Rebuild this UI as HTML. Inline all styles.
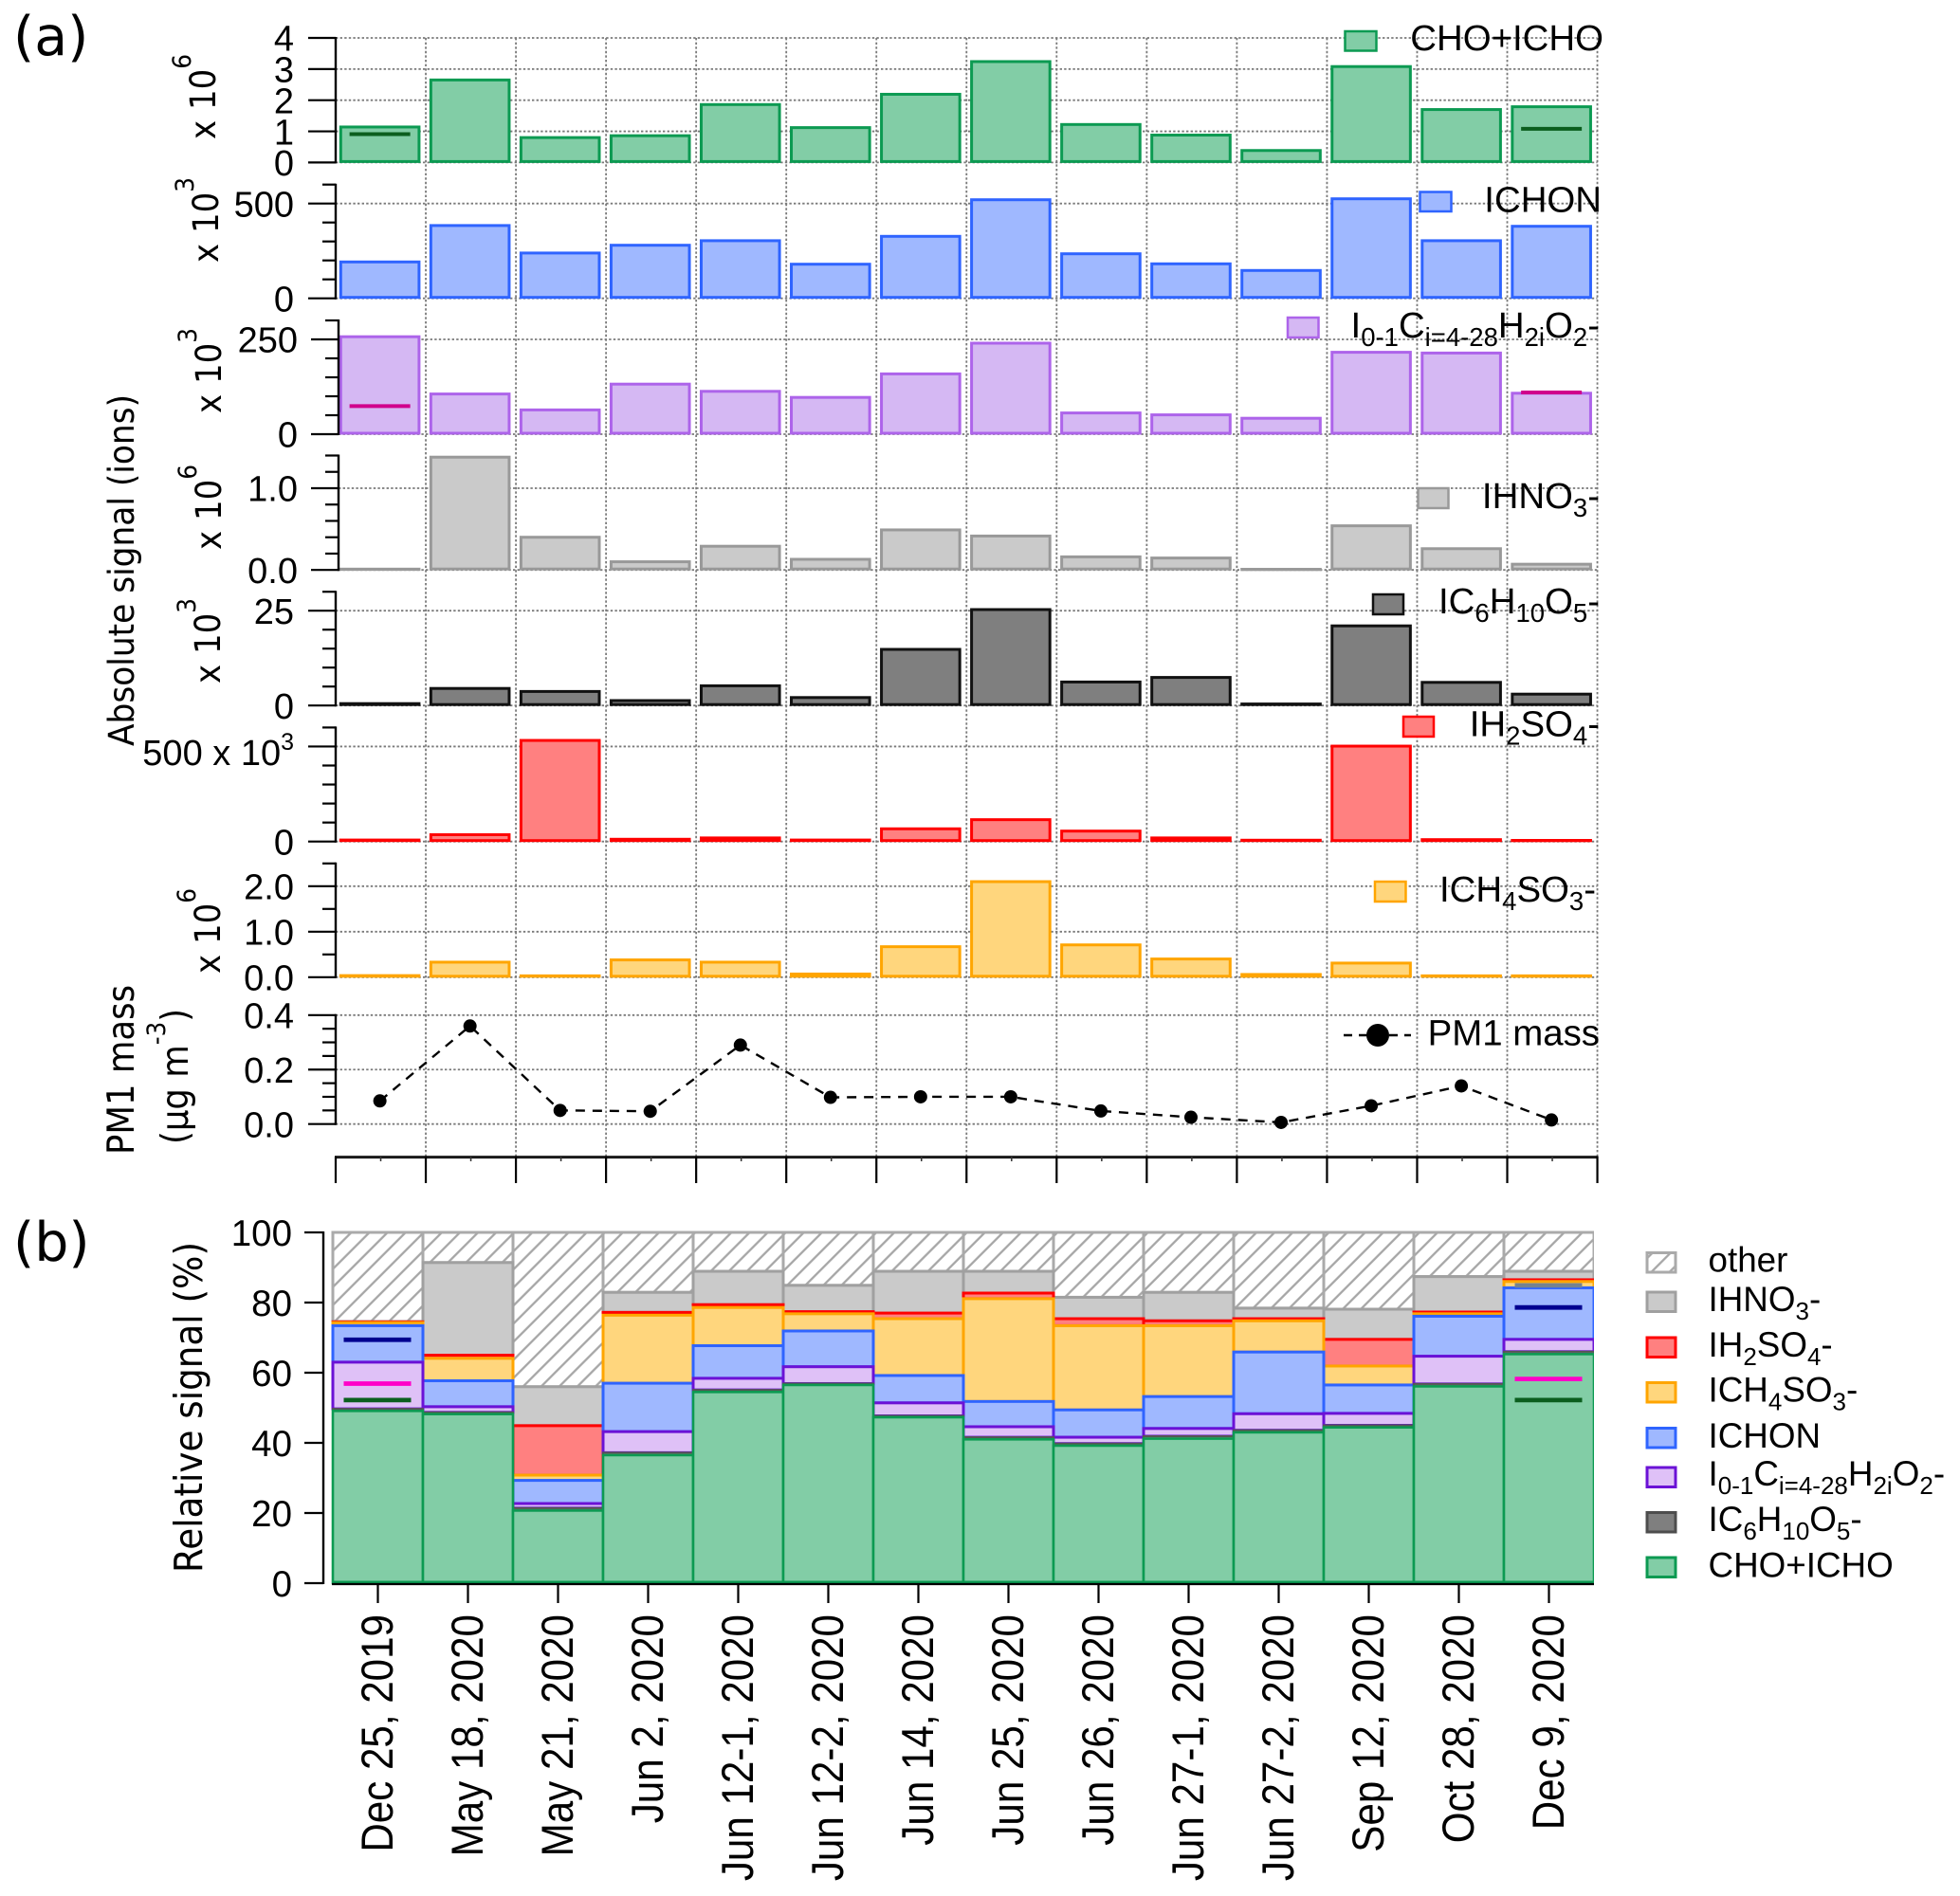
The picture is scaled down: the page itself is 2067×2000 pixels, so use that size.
<!DOCTYPE html>
<html lang="en">
<head>
<meta charset="utf-8">
<title>Absolute and relative signal by sample date</title>
<style>
html,body{margin:0;padding:0;background:#fff;}
svg{display:block;}
text{fill:#000;font-family:"Liberation Sans",sans-serif;}
.lg{font-size:38.4px;}
.lb{font-size:36.8px;}
</style>
</head>
<body>
<svg id="figure" xmlns="http://www.w3.org/2000/svg" width="2067" height="2000" viewBox="0 0 2067 2000">
  <defs>
    <pattern id="hatch" patternUnits="userSpaceOnUse" width="13.5" height="13.5" patternTransform="rotate(45)">
      <rect width="13.5" height="13.5" fill="#fff"></rect>
      <line x1="6.75" y1="0" x2="6.75" y2="13.5" stroke="#A6A6A6" stroke-width="2.3"></line>
    </pattern>
    <clipPath id="relClip"><rect x="340" y="1290" width="1341" height="390"></rect></clipPath>
  </defs>
  <rect width="2067" height="2000" fill="#fff"></rect>

  <text x="14" y="58" font-size="57" style="font-family:'DejaVu Sans',sans-serif">(a)</text>
  <text x="14" y="1330" font-size="57" style="font-family:'DejaVu Sans',sans-serif">(b)</text>

  <g id="gridLayer"></g>
  <g id="barLayer"></g>
  <g id="axisLayer"></g>
  <g id="relLayer" clip-path="url(#relClip)"></g>
  <g id="relAxis"></g>

  <!-- Axis titles -->
  <text transform="translate(141,787) rotate(-90) scale(0.91,1)" font-size="37.8" style="font-family:'DejaVu Sans',sans-serif">Absolute signal (ions)</text>
  <text transform="translate(213,1659) rotate(-90) scale(0.91,1)" font-size="41" style="font-family:'DejaVu Sans',sans-serif">Relative signal (%)</text>
  <text transform="translate(141,1218) rotate(-90) scale(0.91,1)" font-size="39" style="font-family:'DejaVu Sans',sans-serif">PM1 mass</text>
  <text transform="translate(198,1207) rotate(-90) scale(0.91,1)" font-size="39" style="font-family:'DejaVu Sans',sans-serif">(µg m<tspan font-size="27" dy="-24">-3</tspan><tspan dy="24">)</tspan></text>

  <!-- Multiplier labels -->
  <g>
    <text transform="translate(227,147) rotate(-90) scale(0.92,1)" font-size="37" style="font-family:'DejaVu Sans',sans-serif">x 10<tspan font-size="27" dy="-26">6</tspan></text>
    <text transform="translate(230,277) rotate(-90) scale(0.92,1)" font-size="37" style="font-family:'DejaVu Sans',sans-serif">x 10<tspan font-size="27" dy="-26">3</tspan></text>
    <text transform="translate(233,436) rotate(-90) scale(0.92,1)" font-size="37" style="font-family:'DejaVu Sans',sans-serif">x 10<tspan font-size="27" dy="-26">3</tspan></text>
    <text transform="translate(233,580) rotate(-90) scale(0.92,1)" font-size="37" style="font-family:'DejaVu Sans',sans-serif">x 10<tspan font-size="27" dy="-26">6</tspan></text>
    <text transform="translate(232,721) rotate(-90) scale(0.92,1)" font-size="37" style="font-family:'DejaVu Sans',sans-serif">x 10<tspan font-size="27" dy="-26">3</tspan></text>
    <text transform="translate(232,1027) rotate(-90) scale(0.92,1)" font-size="37" style="font-family:'DejaVu Sans',sans-serif">x 10<tspan font-size="27" dy="-26">6</tspan></text>
  </g>

  <!-- Panel (a) legends -->
  <g>
    <rect x="1418.5" y="33" width="33" height="20.5" fill="#82CDA6" stroke="#0C9A52" stroke-width="2.5"></rect>
    <text class="lg" x="1691" y="53" text-anchor="end">CHO+ICHO</text>
  </g>
  <g>
    <rect x="1497.5" y="202.5" width="33" height="20.5" fill="#9FB8FF" stroke="#2F64FF" stroke-width="2.5"></rect>
    <text class="lg" x="1689" y="223.7" text-anchor="end">ICHON</text>
  </g>
  <g>
    <rect x="1358" y="335" width="32.5" height="21" fill="#D5B8F3" stroke="#AD64EA" stroke-width="2.5"></rect>
    <text class="lg" x="1687" y="356" text-anchor="end">I<tspan font-size="27.5" dy="9">0-1</tspan><tspan dy="-9">C</tspan><tspan font-size="27.5" dy="9">i=4-28</tspan><tspan dy="-9">H</tspan><tspan font-size="27.5" dy="9">2i</tspan><tspan dy="-9">O</tspan><tspan font-size="27.5" dy="9">2</tspan><tspan dy="-9">-</tspan></text>
  </g>
  <g>
    <rect x="1495.5" y="515" width="32" height="21" fill="#CACACA" stroke="#999" stroke-width="2.5"></rect>
    <text class="lg" x="1687" y="536" text-anchor="end">IHNO<tspan font-size="27.5" dy="9">3</tspan><tspan dy="-9">-</tspan></text>
  </g>
  <g>
    <rect x="1448" y="627" width="32" height="21" fill="#7F7F7F" stroke="#111" stroke-width="2.5"></rect>
    <text class="lg" x="1687" y="647" text-anchor="end">IC<tspan font-size="27.5" dy="9">6</tspan><tspan dy="-9">H</tspan><tspan font-size="27.5" dy="9">10</tspan><tspan dy="-9">O</tspan><tspan font-size="27.5" dy="9">5</tspan><tspan dy="-9">-</tspan></text>
  </g>
  <g>
    <rect x="1480" y="756" width="32" height="21" fill="#FF8080" stroke="#FF0000" stroke-width="2.5"></rect>
    <text class="lg" x="1687" y="776.6" text-anchor="end">IH<tspan font-size="27.5" dy="9">2</tspan><tspan dy="-9">SO</tspan><tspan font-size="27.5" dy="9">4</tspan><tspan dy="-9">-</tspan></text>
  </g>
  <g>
    <rect x="1450" y="930" width="32.5" height="21" fill="#FFD67D" stroke="#FFA500" stroke-width="2.5"></rect>
    <text class="lg" x="1683" y="951" text-anchor="end">ICH<tspan font-size="27.5" dy="9">4</tspan><tspan dy="-9">SO</tspan><tspan font-size="27.5" dy="9">3</tspan><tspan dy="-9">-</tspan></text>
  </g>
  <g>
    <line x1="1417" y1="1092" x2="1488" y2="1092" stroke="#000" stroke-width="2.4" stroke-dasharray="9 7"></line>
    <circle cx="1453" cy="1092" r="12" fill="#000"></circle>
    <text class="lg" x="1687" y="1102.7" text-anchor="end">PM1 mass</text>
  </g>

  <!-- Panel (b) legend -->
  <g>
    <rect x="1737" y="1321.5" width="30" height="20.5" fill="url(#hatch)" stroke="#aaa" stroke-width="3"></rect>
    <text class="lb" x="1801.5" y="1341.7">other</text>
    <rect x="1737" y="1363" width="30" height="20.5" fill="#CACACA" stroke="#A0A0A0" stroke-width="3"></rect>
    <text class="lb" x="1801.5" y="1383">IHNO<tspan font-size="26" dy="9">3</tspan><tspan dy="-9">-</tspan></text>
    <rect x="1737" y="1411" width="30" height="20.5" fill="#FF8080" stroke="#FF0000" stroke-width="3"></rect>
    <text class="lb" x="1801.5" y="1431">IH<tspan font-size="26" dy="9">2</tspan><tspan dy="-9">SO</tspan><tspan font-size="26" dy="9">4</tspan><tspan dy="-9">-</tspan></text>
    <rect x="1737" y="1458.5" width="30" height="20.5" fill="#FFD67D" stroke="#FFA500" stroke-width="3"></rect>
    <text class="lb" x="1801.5" y="1478.7">ICH<tspan font-size="26" dy="9">4</tspan><tspan dy="-9">SO</tspan><tspan font-size="26" dy="9">3</tspan><tspan dy="-9">-</tspan></text>
    <rect x="1737" y="1506.5" width="30" height="20.5" fill="#9FB8FF" stroke="#2F64FF" stroke-width="3"></rect>
    <text class="lb" x="1801.5" y="1527">ICHON</text>
    <rect x="1737" y="1548" width="30" height="20.5" fill="#DFC1F7" stroke="#6B12D6" stroke-width="3"></rect>
    <text class="lb" x="1801.5" y="1567">I<tspan font-size="26" dy="9">0-1</tspan><tspan dy="-9">C</tspan><tspan font-size="26" dy="9">i=4-28</tspan><tspan dy="-9">H</tspan><tspan font-size="26" dy="9">2i</tspan><tspan dy="-9">O</tspan><tspan font-size="26" dy="9">2</tspan><tspan dy="-9">-</tspan></text>
    <rect x="1737" y="1595.5" width="30" height="20.5" fill="#7F7F7F" stroke="#4d4d4d" stroke-width="3"></rect>
    <text class="lb" x="1801.5" y="1615">IC<tspan font-size="26" dy="9">6</tspan><tspan dy="-9">H</tspan><tspan font-size="26" dy="9">10</tspan><tspan dy="-9">O</tspan><tspan font-size="26" dy="9">5</tspan><tspan dy="-9">-</tspan></text>
    <rect x="1737" y="1643" width="30" height="20.5" fill="#82CDA6" stroke="#0C9A52" stroke-width="3"></rect>
    <text class="lb" x="1801.5" y="1663.3">CHO+ICHO</text>
  </g>
</svg>

<script>
// ---- Categories ----
const sampleDates = ["Dec 25, 2019","May 18, 2020","May 21, 2020","Jun 2, 2020","Jun 12-1, 2020","Jun 12-2, 2020","Jun 14, 2020","Jun 25, 2020","Jun 26, 2020","Jun 27-1, 2020","Jun 27-2, 2020","Sep 12, 2020","Oct 28, 2020","Dec 9, 2020"];

// ---- Panel (a) values (in axis units) ----
const choSignal    = [1.14,2.65,0.80,0.86,1.86,1.12,2.19,3.24,1.22,0.88,0.385,3.08,1.70,1.79];
const ichonSignal  = [192,384,239,280,304,180,327,520,235,182,147,525,304,380];
const iocSignal    = [257,106,64,132,113,97,159,240,56,51,42,216,214,108];
const ihno3Signal  = [0.01,1.38,0.40,0.10,0.29,0.13,0.49,0.415,0.16,0.146,0.008,0.54,0.26,0.07];
const ic6Signal    = [0.5,4.5,3.7,1.3,5.2,2.1,14.8,25.3,6.2,7.4,0.4,21,6.1,3.0];
const ih2so4Signal = [8,36,532,12,19,8,67,115,55,19,7,502,10,6];
const ich4so3Signal= [0.035,0.33,0.03,0.38,0.33,0.07,0.67,2.1,0.71,0.40,0.06,0.31,0.03,0.03];
const pm1Mass      = [0.085,0.36,0.05,0.047,0.29,0.098,0.10,0.10,0.048,0.025,0.006,0.067,0.14,0.015];

// ---- Reference marks in panel (a) (null = none) ----
const choReference = [0.91,null,null,null,null,null,null,null,null,null,null,null,null,1.08];
const iocReference = [74,null,null,null,null,null,null,null,null,null,null,null,null,110];

// ---- Tick labels ----
const choTicks     = ["0","1","2","3","4"];
const ichonTicks   = ["0","500"];
const iocTicks     = ["0","250"];
const ihno3Ticks   = ["0.0","1.0"];
const ic6Ticks     = ["0","25"];
const ih2so4Ticks  = ["0","500"];
const ich4so3Ticks = ["0.0","1.0","2.0"];
const pm1Ticks     = ["0.0","0.2","0.4"];
const relTicks     = ["0","20","40","60","80","100"];

// ---- Panel (b) stacked percentages, bottom to top ----
const relCho     = [49.1,48.2,20.7,36.5,54.5,56.5,47.3,41,39.2,41.2,43,44.4,56.1,65.3];
const relIc6     = [0.6,0.5,0.7,0.7,0.6,0.4,0.4,0.6,0.6,0.7,0.6,0.6,0.7,0.7];
const relIoc     = [13.3,1.6,1.3,6,3.3,4.8,3.7,3,1.8,2.2,4.7,3.4,7.9,3.5];
const relIchon   = [10.4,7.4,6.6,13.8,9.3,10.2,7.8,7.2,7.8,9.1,17.6,8.1,11.4,14.7];
const relIch4so3 = [0.9,6.4,1.5,19.4,10.9,4.9,16.2,29.3,24,20.2,8.9,5.4,0.7,1.8];
const relIh2so4  = [0.2,0.9,14.1,0.8,0.8,0.6,1.6,1.6,2,1.4,0.6,7.6,0.5,0.5];
const relIhno3   = [0.1,26.4,11.1,5.7,9.5,7.5,11.9,6.2,6.1,8.1,3,8.6,10.1,2.4];
const relOther   = [25.4,8.6,44,17.1,11.1,15.1,11.1,11.1,18.5,17.1,21.6,21.9,12.6,11.1];

// ---- Reference marks in panel (b) ----
const relRefCho   = [52.2,null,null,null,null,null,null,null,null,null,null,null,null,52.2];
const relRefIoc   = [56.9,null,null,null,null,null,null,null,null,null,null,null,null,58.2];
const relRefIchon = [69.4,null,null,null,null,null,null,null,null,null,null,null,null,78.6];
const relRefIc6   = [null,null,null,null,null,null,null,null,null,null,null,null,null,84.9];

// ---- Layout and drawing ----
const SVGNS = "http://www.w3.org/2000/svg";
function make(parent, tag, attrs, txt) {
  const el = document.createElementNS(SVGNS, tag);
  for (const k in attrs) el.setAttribute(k, attrs[k]);
  if (txt !== undefined) el.textContent = txt;
  parent.appendChild(el);
  return el;
}
const gridLayer = document.getElementById("gridLayer");
const barLayer  = document.getElementById("barLayer");
const axisLayer = document.getElementById("axisLayer");
const relLayer  = document.getElementById("relLayer");
const relAxis   = document.getElementById("relAxis");

const A_LEFT = 354, A_CELL = 95.04, A_RIGHT = 1684.5;
const B_LEFT = 351, B_CELL = 95;
const xA = i => A_LEFT + A_CELL * (i + 0.5) - 0.9;
const xB = i => B_LEFT + B_CELL * (i + 0.5);

const panels = [
  {id:"cho",     values:choSignal,     ticks:choTicks,     max:4,   y0:171.4, yMax:40,    minor:1,    axisX:354, labelX:310, fill:"#82CDA6", stroke:"#0C9A52", ref:choReference, refColor:"#0B5E1E"},
  {id:"ichon",   values:ichonSignal,   ticks:ichonTicks,   max:600, y0:314.7, yMax:194.7, minor:100,  axisX:354, labelX:310, fill:"#9FB8FF", stroke:"#2F64FF"},
  {id:"ioc",     values:iocSignal,     ticks:iocTicks,     max:300, y0:458,   yMax:338,   minor:50,   axisX:357, labelX:314, fill:"#D5B8F3", stroke:"#AD64EA", ref:iocReference, refColor:"#D0008C"},
  {id:"ihno3",   values:ihno3Signal,   ticks:ihno3Ticks,   max:1.4, y0:601.2, yMax:480.5, minor:0.2,  axisX:357, labelX:314, fill:"#CACACA", stroke:"#999999"},
  {id:"ic6",     values:ic6Signal,     ticks:ic6Ticks,     max:30,  y0:744.2, yMax:624.2, minor:5,    axisX:354, labelX:310, fill:"#7F7F7F", stroke:"#111111"},
  {id:"ih2so4",  values:ih2so4Signal,  ticks:ih2so4Ticks,  max:600, y0:887.7, yMax:767.4, minor:100,  axisX:354, labelX:310, fill:"#FF8080", stroke:"#FF0000"},
  {id:"ich4so3", values:ich4so3Signal, ticks:ich4so3Ticks, max:2.5, y0:1030.8,yMax:910.8, minor:0.5,  axisX:354, labelX:310, fill:"#FFD67D", stroke:"#FFA500"}
];
const pmPanel = {id:"pm1", values:pm1Mass, ticks:pm1Ticks, max:0.4, y0:1185.7, yMax:1070.8, minor:0.05, axisX:354, labelX:310};

function scaleY(p) { return v => p.y0 - (v / p.max) * (p.y0 - p.yMax); }

function drawAxis(p) {
  const y = scaleY(p);
  const line = make(axisLayer, "line", {x1:p.axisX, x2:p.axisX, y1:p.yMax - 1, y2:p.y0 + 1, stroke:"#000", "stroke-width":2.4});
  
  
  const n = Math.round(p.max / p.minor);
  for (let k = 0; k <= n; k++) {
    const v = k * p.minor;
    const isMajor = p.ticks.some(t => Math.abs(parseFloat(t) - v) < 1e-6);
    const tick = make(axisLayer, "line", {x1:p.axisX - (isMajor ? 29 : 14), x2:p.axisX, y1:y(v), y2:y(v), stroke:"#000", "stroke-width":2.2});
    
    
  }
  p.ticks.forEach(t => {
    const v = parseFloat(t);
    const gl = make(gridLayer, "line", {x1:p.axisX, x2:A_RIGHT, y1:y(v), y2:y(v), stroke:"#7a7a7a", "stroke-width":1.8, "stroke-dasharray":"2.4 2.2"});
    
    
    const isCombo = p.id === "ih2so4" && t === "500";
    const lab = make(axisLayer, "text", {x:p.labelX, y:y(v) + (isCombo ? 19.5 : 13.7), "text-anchor":"end", "font-size":38});
    
    
    lab.appendChild(document.createTextNode(t));
    if (isCombo) {
      lab.appendChild(document.createTextNode(" x 10"));
      make(lab, "tspan", {"font-size":25, dy:-16}, "3");
    }
  });
}

// Vertical grid and bottom axis of panel (a)
for (let k = 1; k <= 14; k++) {
  const gx = A_LEFT + A_CELL * k;
  const vl = make(gridLayer, "line", {x1:gx, x2:gx, y1:40, y2:1220, stroke:"#7a7a7a", "stroke-width":1.8, "stroke-dasharray":"2.4 2.2"});
  
  
}
const bottomAxis = make(axisLayer, "line", {x1:A_LEFT - 1, x2:A_RIGHT + 1, y1:1220.6, y2:1220.6, stroke:"#1a1a1a", "stroke-width":3});


for (let k = 0; k <= 14; k++) {
  const gx = A_LEFT + A_CELL * k;
  const t = make(axisLayer, "line", {x1:gx, x2:gx, y1:1220, y2:1248, stroke:"#000", "stroke-width":2.2});
  
  
  if (k < 14) {
    const m = make(axisLayer, "line", {x1:gx + A_CELL / 2, x2:gx + A_CELL / 2, y1:1220, y2:1225, stroke:"#333", "stroke-width":1.5});
    
    
  }
}

// Bars of panel (a)
panels.forEach(p => {
  const y = scaleY(p);
  drawAxis(p);
  p.values.forEach((v, i) => {
    const top = y(v);
    const bar = make(barLayer, "rect", {x:xA(i) - 41.3, y:top, width:82.6, height:Math.max(0.3, p.y0 - 1 - top), fill:p.fill, stroke:p.stroke, "stroke-width":3});
    
    
  });
  if (p.ref) {
    p.ref.forEach((v, i) => {
      if (v === null) return;
      const mark = make(barLayer, "line", {x1:xA(i) - 32, x2:xA(i) + 32, y1:y(v), y2:y(v), stroke:p.refColor, "stroke-width":4});
      
      
    });
  }
});

// PM1 mass series
drawAxis(pmPanel);
(function () {
  const y = scaleY(pmPanel);
  const pts = pm1Mass.map((v, i) => xA(i) + "," + y(v)).join(" ");
  const series = make(barLayer, "polyline", {points:pts, fill:"none", stroke:"#000", "stroke-width":2.4, "stroke-dasharray":"10 8"});
  
  
  pm1Mass.forEach((v, i) => {
    const dot = make(barLayer, "circle", {cx:xA(i), cy:y(v), r:7, fill:"#000"});
    
    
  });
})();

// Panel (b)
const REL_Y0 = 1670, REL_Y100 = 1300;
const yB = v => REL_Y0 - (v / 100) * (REL_Y0 - REL_Y100);
const stackOrder = [
  {id:"cho",     values:relCho,     fill:"#82CDA6", stroke:"#0C9A52", sw:2.6},
  {id:"ic6",     values:relIc6,     fill:"#7F7F7F", stroke:"#555555", sw:2},
  {id:"ioc",     values:relIoc,     fill:"#DFC1F7", stroke:"#6B12D6", sw:3},
  {id:"ichon",   values:relIchon,   fill:"#9FB8FF", stroke:"#2F64FF", sw:3},
  {id:"ich4so3", values:relIch4so3, fill:"#FFD67D", stroke:"#FFA500", sw:3},
  {id:"ih2so4",  values:relIh2so4,  fill:"#FF8080", stroke:"#FF0000", sw:3},
  {id:"ihno3",   values:relIhno3,   fill:"#CACACA", stroke:"#A0A0A0", sw:3},
  {id:"other",   values:relOther,   fill:"url(#hatch)", stroke:"#AAAAAA", sw:3}
];
for (let s = stackOrder.length - 1; s >= 0; s--) {
  const ser = stackOrder[s];
  ser.values.forEach((v, i) => {
    let base = 0;
    for (let q = 0; q < s; q++) base += stackOrder[q].values[i];
    const seg = make(relLayer, "rect", {x:xB(i) - B_CELL / 2, y:yB(base + v), width:B_CELL, height:Math.max(0.3, yB(base) - yB(base + v)), fill:ser.fill, stroke:ser.stroke, "stroke-width":ser.sw});
    
    
  });
}
[[relRefCho,"#0B5E1E"],[relRefIoc,"#FF00C8"],[relRefIchon,"#000090"],[relRefIc6,"#75828F"]].forEach(pair => {
  pair[0].forEach((v, i) => {
    if (v === null) return;
    const mark = make(relLayer, "line", {x1:xB(i) - 36, x2:xB(i) + 35, y1:yB(v), y2:yB(v), stroke:pair[1], "stroke-width":4.8});
    
    
  });
});
const relBase = make(relAxis, "line", {x1:B_LEFT - 1, x2:1681, y1:1669, y2:1669, stroke:"#0C9A52", "stroke-width":3});


const relXAxis = make(relAxis, "line", {x1:B_LEFT - 1, x2:1681, y1:1671, y2:1671, stroke:"#000", "stroke-width":2.2});


const relYAxis = make(relAxis, "line", {x1:341, x2:341, y1:1299, y2:1671, stroke:"#000", "stroke-width":2.4});


relTicks.forEach(t => {
  const v = parseFloat(t);
  const tick = make(relAxis, "line", {x1:321, x2:341, y1:yB(v), y2:yB(v), stroke:"#000", "stroke-width":2.2});
  
  
  const lab = make(relAxis, "text", {x:308, y:yB(v) + 14, "text-anchor":"end", "font-size":38.5}, t);
  
  
});
sampleDates.forEach((d, i) => {
  const tick = make(relAxis, "line", {x1:xB(i), x2:xB(i), y1:1671, y2:1691, stroke:"#000", "stroke-width":2.2});
  
  
  const lab = make(relAxis, "text", {transform:"translate(" + (xB(i) + 15.5) + ",1703) rotate(-90) scale(0.897,1)", "text-anchor":"end", "font-size":47}, d);
  
  
});
</script>
</body>
</html>
